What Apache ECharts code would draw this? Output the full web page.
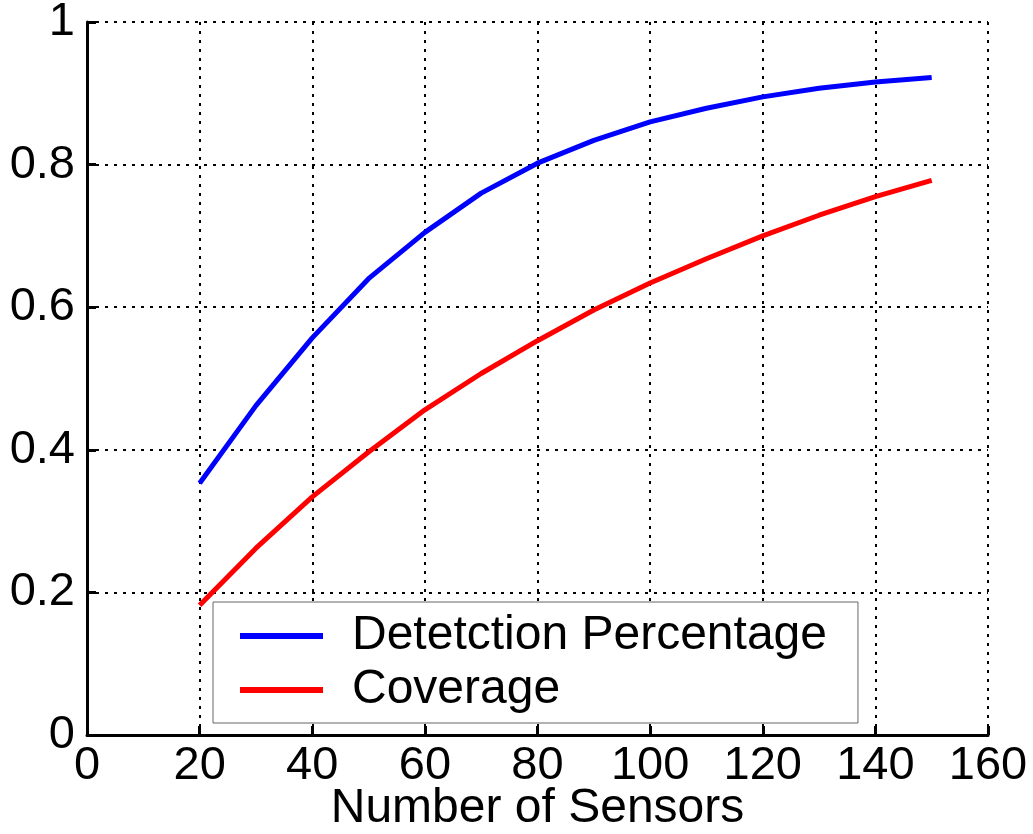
<!DOCTYPE html>
<html>
<head>
<meta charset="utf-8">
<script src="https://cdn.jsdelivr.net/npm/echarts@6/dist/echarts.min.js"></script>
<style>
    html, body { margin: 0; padding: 0; background: #fff; }
    #chart { width: 1033px; height: 834px; }
</style>
</head>
<body>
<div id="chart"></div>
<script>
    // values
    var sensors = [20, 30, 40, 50, 60, 70, 80, 90, 100, 110, 120, 130, 140, 150];
    var detection = [0.353, 0.462, 0.557, 0.640, 0.705, 0.760, 0.802, 0.834, 0.860, 0.879, 0.895, 0.907, 0.916, 0.922];
    var coverage = [0.182, 0.262, 0.334, 0.397, 0.456, 0.507, 0.553, 0.596, 0.634, 0.668, 0.700, 0.729, 0.755, 0.778];
    var seriesNames = ['Detetction Percentage', 'Coverage'];

    function pairs(ys) {
        return sensors.map(function (x, i) { return [x, ys[i]]; });
    }

    var font = 'Liberation Sans, Arial, sans-serif';
    var gridDots = { color: '#000', width: 2, type: [3, 6] };

    var option = {
        animation: false,
        grid: { left: 87, right: 45, top: 22, bottom: 99, containLabel: false, outerBoundsMode: 'none' },
        legend: {
            data: seriesNames,
            orient: 'vertical',
            left: 213,
            top: 602,
            padding: [9, 31, 8, 27],
            itemGap: 4,
            itemWidth: 83,
            itemHeight: 6,
            icon: 'rect',
            borderColor: '#666',
            borderWidth: 1,
            backgroundColor: '#fff',
            textStyle: { fontFamily: font, fontSize: 48, color: '#000', lineHeight: 50, padding: [0, 0, 0, 24] }
        },
        xAxis: {
            type: 'value',
            min: 0,
            max: 160,
            interval: 20,
            name: 'Number of Sensors',
            nameLocation: 'middle',
            nameGap: 50,
            nameMoveOverlap: false,
            nameTextStyle: { fontFamily: font, fontSize: 48, color: '#000', verticalAlign: 'top', lineHeight: 48 },
            axisLine: { onZero: false, lineStyle: { color: '#000', width: 3 } },
            axisTick: { inside: true, length: 9, lineStyle: { color: '#000', width: 3 } },
            axisLabel: { fontFamily: font, fontSize: 47, color: '#000', margin: 8 },
            splitLine: { show: true, lineStyle: gridDots }
        },
        yAxis: {
            type: 'value',
            min: 0,
            max: 1,
            interval: 0.2,
            axisLine: { show: true, onZero: false, lineStyle: { color: '#000', width: 3 } },
            axisTick: { show: true, inside: true, length: 9, lineStyle: { color: '#000', width: 3 } },
            axisLabel: { fontFamily: font, fontSize: 47, color: '#000', margin: 12 },
            splitLine: { show: true, lineStyle: gridDots }
        },
        series: [
            {
                name: seriesNames[0],
                type: 'line',
                data: pairs(detection),
                symbol: 'none',
                itemStyle: { color: '#0000ff' },
                lineStyle: { color: '#0000ff', width: 5 }
            },
            {
                name: seriesNames[1],
                type: 'line',
                data: pairs(coverage),
                symbol: 'none',
                itemStyle: { color: '#ff0000' },
                lineStyle: { color: '#ff0000', width: 5 }
            }
        ]
    };

    echarts.init(document.getElementById('chart')).setOption(option);
</script>
</body>
</html>
